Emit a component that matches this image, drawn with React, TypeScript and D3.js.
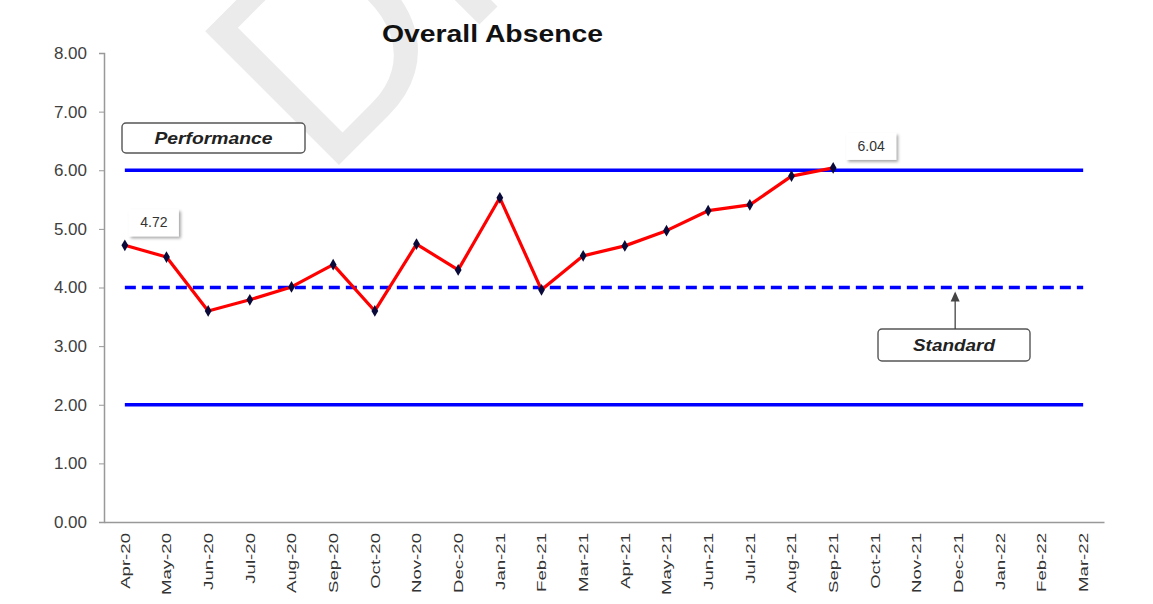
import React, { useEffect, useRef } from "react";
import * as d3 from "d3";

// months on the x axis
const months = [
  "Apr-20", "May-20", "Jun-20", "Jul-20", "Aug-20", "Sep-20", "Oct-20", "Nov-20",
  "Dec-20", "Jan-21", "Feb-21", "Mar-21", "Apr-21", "May-21", "Jun-21", "Jul-21",
  "Aug-21", "Sep-21", "Oct-21", "Nov-21", "Dec-21", "Jan-22", "Feb-22", "Mar-22",
];

// overall absence (%), Apr-20 .. Sep-21
const absence = [
  4.72, 4.52, 3.6, 3.79, 4.01, 4.39, 3.6, 4.74, 4.3, 5.53, 3.96, 4.54,
  4.71, 4.97, 5.31, 5.41, 5.9, 6.04,
];

const yTicks = [0, 1, 2, 3, 4, 5, 6, 7, 8];
const upperLimit = 6;
const standard = 4;
const lowerLimit = 2;

const W = 1153;
const H = 604;
const FONT = "Arial, 'Liberation Sans', sans-serif";

export default function App() {
  const ref = useRef<SVGSVGElement | null>(null);

  useEffect(() => {
    document.body.style.margin = "0";
    const svg = d3.select(ref.current);
    svg.selectAll("*").remove();

    const x = d3.scaleBand<string>().domain(months).range([104, 1104]);
    const y = d3.scaleLinear().domain([0, 8]).range([522, 53]);
    const cx = (m: string) => (x(m) as number) + x.bandwidth() / 2;

    const defs = svg.append("defs");
    const f = defs.append("filter").attr("id", "shadow")
      .attr("x", "-20%").attr("y", "-20%").attr("width", "150%").attr("height", "160%");
    f.append("feDropShadow").attr("dx", 2).attr("dy", 2).attr("stdDeviation", 1.5)
      .attr("flood-color", "#000").attr("flood-opacity", 0.35);

    // watermark (mostly off the top of the page)
    svg.append("g").attr("transform", "translate(323,181) rotate(-45)")
      .append("text")
      .attr("font-family", FONT)
      .attr("font-size", 275)
      .attr("fill", "#ebebeb")
      .text("DRAFT");

    // title
    svg.append("text")
      .attr("x", 382).attr("y", 42)
      .attr("font-family", FONT)
      .attr("font-weight", "bold")
      .attr("font-size", 24)
      .attr("fill", "#111")
      .attr("textLength", 221).attr("lengthAdjust", "spacingAndGlyphs")
      .text("Overall Absence");

    // y axis
    const yAxis = d3.axisLeft(y).tickValues(yTicks).tickFormat(d3.format(".2f"))
      .tickSize(5).tickPadding(12);
    const gy = svg.append("g").attr("transform", "translate(104,0)").call(yAxis);
    gy.select(".domain").attr("stroke", "#999").attr("stroke-width", 1.5);
    gy.selectAll(".tick line").attr("stroke", "#999");
    gy.selectAll(".tick text")
      .attr("font-family", FONT)
      .attr("font-size", 17).attr("fill", "#404040");

    // x axis
    const xAxis = d3.axisBottom(x).tickSize(0).tickPadding(0);
    const gx = svg.append("g").attr("transform", `translate(0,${y(0)})`).call(xAxis);
    gx.select(".domain").attr("stroke", "#999").attr("stroke-width", 1.5);
    gx.selectAll(".tick text")
      .attr("font-family", FONT)
      .attr("font-size", 13.5).attr("fill", "#333")
      .attr("text-anchor", "end")
      .attr("transform", "translate(0,11) rotate(-90) scale(1.38,1)")
      .attr("x", 0).attr("y", 0).attr("dy", "0.35em");

    const x0 = cx(months[0]);
    const x1 = cx(months[months.length - 1]);

    // control lines
    [upperLimit, lowerLimit].forEach((v) => {
      svg.append("line").attr("x1", x0).attr("x2", x1)
        .attr("y1", y(v)).attr("y2", y(v))
        .attr("stroke", "#0000ff").attr("stroke-width", 3.5);
    });
    svg.append("line").attr("x1", x0).attr("x2", x1)
      .attr("y1", y(standard)).attr("y2", y(standard))
      .attr("stroke", "#0000ff").attr("stroke-width", 3.5)
      .attr("stroke-dasharray", "11,6");

    // series
    const pts = absence.map((v, i) => ({ m: months[i], v }));
    const line = d3.line<{ m: string; v: number }>().x((d) => cx(d.m)).y((d) => y(d.v));
    svg.append("path").datum(pts).attr("d", line)
      .attr("fill", "none").attr("stroke", "#ff0000").attr("stroke-width", 3.2)
      .attr("stroke-linejoin", "round");
    svg.append("g").selectAll("path").data(pts).join("path")
      .attr("transform", (d) => `translate(${cx(d.m)},${y(d.v)})`)
      .attr("d", d3.symbol(d3.symbolDiamond, 40)())
      .attr("fill", "#0a0a3a");

    // data labels on first and last points
    const labelIdx = [0, absence.length - 1];
    labelIdx.forEach((i, k) => {
      const px = cx(months[i]) + (k === 0 ? 29 : 38);
      const py = y(absence[i]) - (k === 0 ? 23 : 22);
      svg.append("rect").attr("x", px - 25).attr("y", py - 13).attr("width", 50).attr("height", 27)
        .attr("fill", "#fff").attr("filter", "url(#shadow)");
      svg.append("text").attr("x", px).attr("y", py + 5).attr("text-anchor", "middle")
        .attr("font-family", FONT)
        .attr("font-size", 14).attr("fill", "#333")
        .text(absence[i].toFixed(2));
    });

    // callout boxes
    const box = (cxp: number, cyp: number, w: number, h: number, tw: number, label: string) => {
      svg.append("rect").attr("x", cxp - w / 2).attr("y", cyp - h / 2).attr("width", w).attr("height", h)
        .attr("rx", 4).attr("fill", "#fff").attr("stroke", "#555").attr("stroke-width", 1.4);
      svg.append("text").attr("x", cxp - tw / 2).attr("y", cyp + 6)
        .attr("font-family", FONT)
        .attr("font-style", "italic").attr("font-weight", "bold")
        .attr("font-size", 16.5).attr("fill", "#222")
        .attr("textLength", tw).attr("lengthAdjust", "spacingAndGlyphs")
        .text(label);
    };
    box(213.5, 138, 183, 30, 118, "Performance");

    const sx = cx("Dec-21");
    box(954, 345, 152, 32, 82, "Standard");
    svg.append("line").attr("x1", sx - 3).attr("x2", sx - 3)
      .attr("y1", 329).attr("y2", y(standard) + 6)
      .attr("stroke", "#444").attr("stroke-width", 1.3);
    svg.append("path")
      .attr("d", `M${sx - 3},${y(standard) + 4} l-4.5,10 l9,0 z`)
      .attr("fill", "#444");
  }, []);

  return <svg ref={ref} width={W} height={H} style={{ display: "block", background: "#fff" }} />;
}
